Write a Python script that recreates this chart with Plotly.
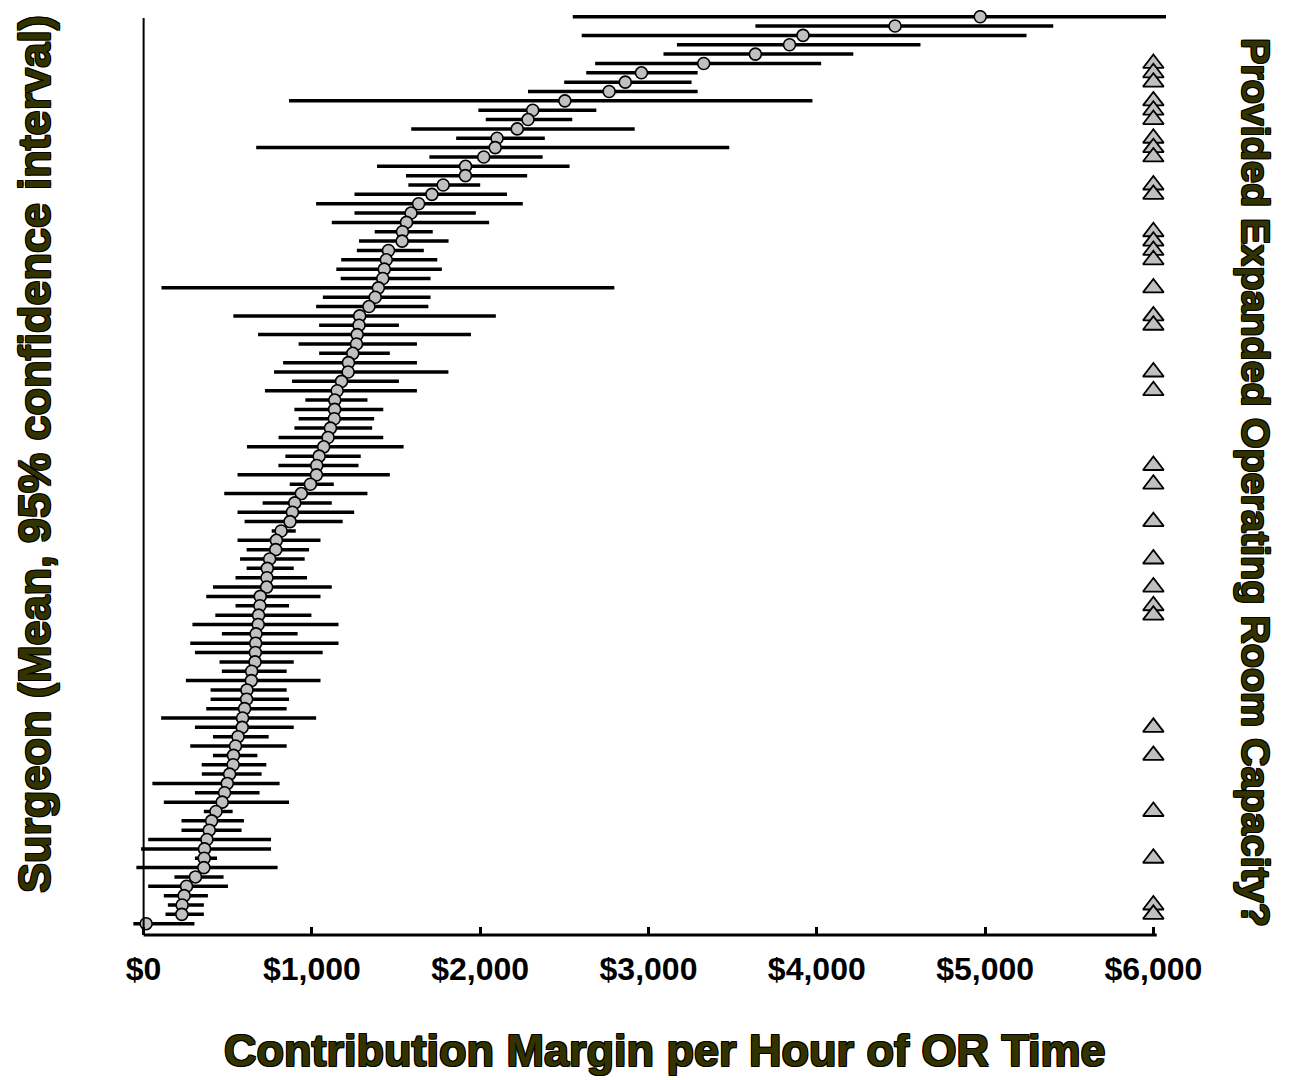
import plotly.graph_objects as go

# Surgeons ranked from highest mean (rank 1, top) to lowest (rank 98, bottom)
surgeon_rank = list(range(1, 99))

mean_cm = [4971, 4465, 3918, 3838, 3635, 3328, 2958, 2862, 2766, 2503,
           2312, 2284, 2220, 2100, 2089, 2021, 1913, 1912, 1780, 1713,
           1634, 1589, 1562, 1538, 1536, 1455, 1442, 1430, 1421, 1395,
           1376, 1339, 1284, 1280, 1269, 1265, 1243, 1217, 1215, 1176,
           1150, 1136, 1135, 1133, 1110, 1096, 1070, 1043, 1029, 1027,
           991, 937, 898, 884, 870, 817, 789, 785, 749, 735,
           733, 731, 693, 691, 683, 681, 668, 666, 664, 662,
           642, 640, 614, 612, 600, 588, 586, 561, 546, 534,
           532, 511, 497, 481, 467, 430, 404, 390, 376, 362,
           360, 358, 308, 255, 241, 229, 227, 15]

ci_low = [2550, 3635, 2603, 3169, 3089, 2683, 2630, 2499, 2284, 864,
          1989, 2033, 1590, 1857, 669, 1698, 1387, 1559, 1573, 1253,
          1025, 1253, 1118, 1373, 1280, 1267, 1174, 1145, 1171, 106,
          1065, 1025, 533, 1043, 680, 921, 1043, 829, 775, 882,
          721, 961, 896, 921, 896, 802, 614, 842, 801, 558,
          868, 479, 707, 558, 600, 761, 558, 612, 573, 612,
          546, 412, 372, 546, 426, 290, 465, 277, 305, 451,
          465, 251, 398, 398, 372, 104, 305, 412, 277, 412,
          345, 346, 52, 305, 120, 358, 225, 225, 27, -15,
          305, -43, 183, 27, 120, 144, 130, -61]

ci_high = [6150, 5405, 5246, 4616, 4217, 4026, 3292, 3256, 3292, 3974,
           2690, 2547, 2918, 2384, 3480, 2371, 2531, 2279, 2000, 2159,
           2253, 1974, 2053, 1718, 1812, 1665, 1745, 1772, 1705, 2797,
           1705, 1692, 2093, 1517, 1945, 1624, 1463, 1624, 1811, 1517,
           1624, 1330, 1424, 1370, 1358, 1424, 1545, 1290, 1277, 1463,
           1130, 1330, 1118, 1251, 1183, 904, 1051, 983, 957, 892,
           971, 1118, 1051, 864, 997, 1158, 915, 1158, 1064, 892,
           850, 1051, 850, 864, 850, 1025, 892, 743, 850, 676,
           729, 701, 808, 689, 864, 529, 596, 582, 757, 757,
           436, 796, 475, 501, 382, 358, 358, 302]

# Ranks of surgeons who provided expanded OR capacity
expanded_ranks = [6, 7, 8, 10, 11, 12, 14, 15, 16, 19, 20, 24, 25, 26, 27, 30,
                  33, 34, 39, 41, 49, 51, 55, 59, 62, 64, 65, 77, 80, 86, 91, 96, 97]
flag_column_value = 6000

tick_values = [0, 1000, 2000, 3000, 4000, 5000, 6000]
tick_labels = ["$0", "$1,000", "$2,000", "$3,000", "$4,000", "$5,000", "$6,000"]

err_plus = [h - m for h, m in zip(ci_high, mean_cm)]
err_minus = [m - l for m, l in zip(mean_cm, ci_low)]

fig = go.Figure()
fig.add_trace(go.Scatter(
    x=mean_cm, y=surgeon_rank, mode="markers",
    marker=dict(symbol="circle", size=12, color="#c0c0c0",
                line=dict(color="black", width=1.6)),
    error_x=dict(type="data", symmetric=False, array=err_plus, arrayminus=err_minus,
                 color="black", thickness=3.5, width=0),
    showlegend=False, hoverinfo="x+y"))

fig.add_trace(go.Scatter(
    x=[flag_column_value] * len(expanded_ranks), y=expanded_ranks, mode="markers",
    marker=dict(symbol="triangle-up", size=18, color="#c0c0c0",
                line=dict(color="black", width=1.8)),
    showlegend=False, cliponaxis=False))

title_font = dict(family="Liberation Sans, Arial, sans-serif", size=45, color="#333300",
                  weight="bold",
                  shadow="1px 1px 0 #000, -1px -1px 0 #000, 1px -1px 0 #000, -1px 1px 0 #000")

# page offset of 8px (default body margin) is compensated in the margins
L, T, PW, PH = 123, 2, 1035, 925
FW, FH = 1282, 1072

def px_x(page_x):
    return (page_x - 8 - L) / PW

def px_y(page_y):
    return (T + PH - (page_y - 8)) / PH

fig.update_layout(
    width=FW, height=FH,
    margin=dict(l=L, r=FW - L - PW, t=T, b=FH - T - PH),
    paper_bgcolor="white", plot_bgcolor="white",
    xaxis=dict(range=[-75, 6075], showgrid=False, zeroline=False, showline=False,
               tickmode="array", tickvals=tick_values, ticktext=tick_labels,
               ticks="inside", ticklen=8, tickwidth=3, tickcolor="black",
               ticklabelstandoff=12,
               tickfont=dict(family="Liberation Sans, Arial, sans-serif", size=32,
                             color="black", weight="bold")),
    yaxis=dict(range=[99.21, 0.283], showgrid=False, zeroline=False, showline=False,
               showticklabels=False, ticks=""),
    shapes=[
        dict(type="line", xref="x", yref="paper", x0=0, x1=0, y0=0, y1=0.9914,
             line=dict(color="black", width=2)),
        dict(type="line", xref="x", yref="paper", x0=0, x1=6020, y0=0, y1=0,
             line=dict(color="black", width=3)),
    ],
    annotations=[
        dict(text="Contribution Margin per Hour of OR Time", xref="paper", yref="paper",
             x=px_x(665), y=px_y(1050), xanchor="center", yanchor="middle",
             showarrow=False, font=title_font),
        dict(text="Surgeon (Mean, 95% confidence interval)", xref="paper", yref="paper",
             x=px_x(34), y=px_y(454), xanchor="center", yanchor="middle",
             textangle=-90, showarrow=False, font=title_font),
        dict(text="Provided Expanded Operating Room Capacity?", xref="paper", yref="paper",
             x=px_x(1256), y=px_y(482), xanchor="center", yanchor="middle",
             textangle=90, showarrow=False, font=dict(title_font, size=39.5)),
    ],
)

fig.write_html("out.html")
